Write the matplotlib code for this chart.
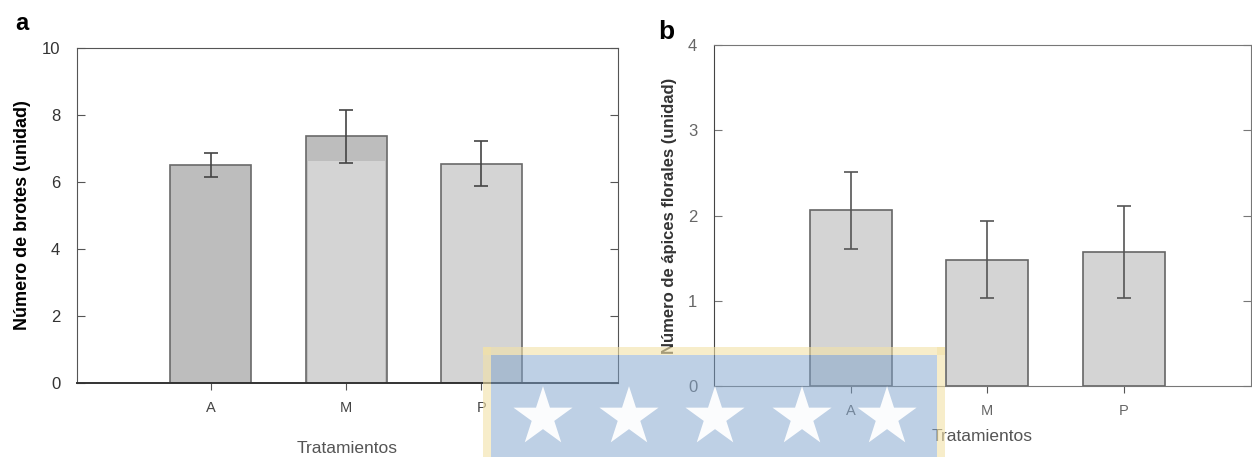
import matplotlib.pyplot as plt
from matplotlib.patches import Rectangle

plt.rcParams['font.family'] = ['Liberation Sans', 'DejaVu Sans']

tratamientos = ['A', 'M', 'P']

# panel a: numero de brotes
brotes = [6.5, 7.36, 6.55]
brotes_err = [0.36, 0.8, 0.66]
brotes_m_claro = 6.62   # parte clara de la barra M

# panel b: numero de apices florales
apices = [2.06, 1.48, 1.57]
apices_err = [0.45, 0.45, 0.54]

fig = plt.figure(figsize=(12.52, 4.57), dpi=100)

ax1 = fig.add_axes([0.0615, 0.1619, 0.4321, 0.733])
x = range(len(tratamientos))
ax1.bar(x, brotes, width=0.6, color=['#bdbdbd', '#bdbdbd', '#d4d4d4'],
        edgecolor='#6a6a6a', linewidth=1.2)
ax1.bar(1, brotes_m_claro, width=0.57, color='#d4d4d4', linewidth=0)
ax1.errorbar(x, brotes, yerr=brotes_err, fmt='none', ecolor='#444444',
             elinewidth=1.2, capsize=5, capthick=1.2)
ax1.set_xlim(-0.99, 3.01)
ax1.set_ylim(0, 10)
ax1.set_yticks([0, 2, 4, 6, 8, 10])
ax1.set_xticks(list(x))
ax1.set_xticklabels(tratamientos)
ax1.set_ylabel('Número de brotes (unidad)', fontsize=13, fontweight='bold', labelpad=8)
ax1.set_xlabel('Tratamientos', fontsize=12.5, color='#555555', labelpad=19)
ax1.tick_params(axis='y', direction='in', right=True, length=6, labelsize=12, pad=12,
                color='#555555', labelcolor='#333333')
ax1.tick_params(axis='x', direction='out', length=5, labelsize=10.5, pad=8,
                color='#555555', labelcolor='#444444')
for s in ax1.spines.values():
    s.set_color('#555555')
ax1.spines['bottom'].set_color('#333333')
ax1.spines['bottom'].set_linewidth(1.4)
fig.text(0.012, 0.935, 'a', fontsize=17, fontweight='bold')

ax2 = fig.add_axes([0.5703, 0.1554, 0.4289, 0.746])
ax2.bar(x, apices, width=0.6, color='#d4d4d4', edgecolor='#666666', linewidth=1.2)
ax2.errorbar(x, apices, yerr=apices_err, fmt='none', ecolor='#555555',
             elinewidth=1.2, capsize=5, capthick=1.2)
ax2.set_xlim(-1.0, 2.93)
ax2.set_ylim(0, 4)
ax2.set_yticks([0, 1, 2, 3, 4])
ax2.set_xticks(list(x))
ax2.set_xticklabels(tratamientos)
ax2.set_ylabel('Número de ápices florales (unidad)', fontsize=12, fontweight='bold',
               color='#333333', labelpad=8)
ax2.set_xlabel('Tratamientos', fontsize=12.5, color='#555555', labelpad=8)
ax2.tick_params(axis='y', direction='in', right=True, length=6, labelsize=12, pad=12,
                color='#777777', labelcolor='#666666')
ax2.tick_params(axis='x', direction='out', length=5, labelsize=10.5, pad=8,
                color='#555555', labelcolor='#666666')
for s in ax2.spines.values():
    s.set_color('#777777')
ax2.spines['left'].set_color('#444444')
fig.text(0.526, 0.915, 'b', fontsize=19, fontweight='bold')

# marca de agua escaneada (recuadro con estrellas)
marco = '#f3e2a8'
for r in [(0.3858, 0.0, 0.0064, 0.2407), (0.7484, 0.0, 0.0064, 0.2407),
          (0.3858, 0.2232, 0.369, 0.0175)]:
    fig.patches.append(Rectangle(r[:2], r[2], r[3], transform=fig.transFigure,
                                 facecolor=marco, alpha=0.6, edgecolor='none', zorder=10))
fig.patches.append(Rectangle((0.3922, 0.0), 0.3562, 0.2232, transform=fig.transFigure,
                             facecolor='#7fa3cc', alpha=0.5, edgecolor='none', zorder=11))
estrellas_x = [0.4337, 0.5024, 0.5711, 0.6406, 0.7085]
ax_w = fig.add_axes([0, 0, 1, 1], facecolor='none', zorder=12)
ax_w.set_xlim(0, 1)
ax_w.set_ylim(0, 1)
ax_w.axis('off')
ax_w.scatter(estrellas_x, [0.087] * len(estrellas_x), marker='*', s=2000,
             color='white', edgecolors='none', alpha=0.95)

fig.savefig('out.png', dpi=100)
